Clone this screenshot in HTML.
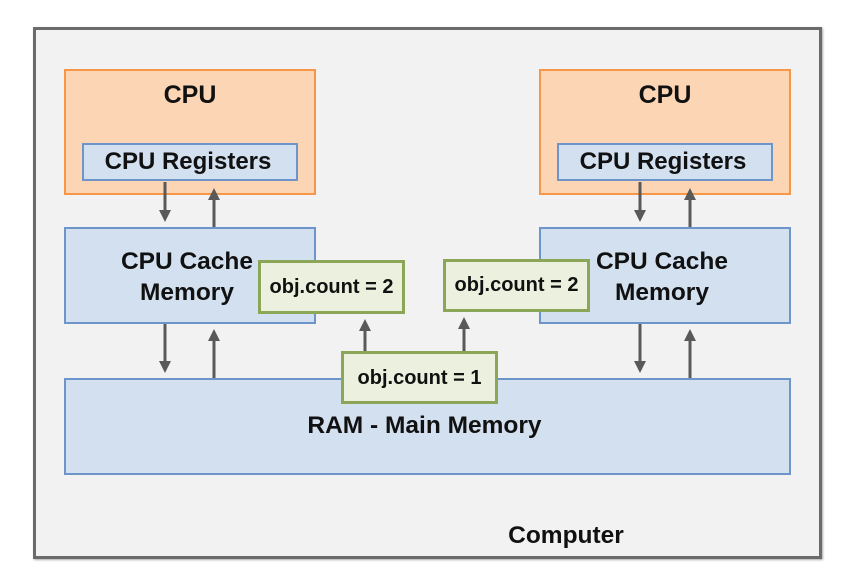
<!DOCTYPE html>
<html><head><style>
body{margin:0;background:#fff;width:847px;height:585px;position:relative;overflow:hidden;font-family:"Liberation Sans",Arial,sans-serif;font-weight:bold;color:#111}
.b{position:absolute;box-sizing:border-box;text-align:center;white-space:nowrap}
.frame{left:33px;top:27px;width:789px;height:532px;border:3px solid #6b6b6b;background:#f2f2f2;box-shadow:1px 1px 2px #aaa}
.cpu{background:#fcd5b5;border:2px solid #f79646;font-size:25px;padding-top:10px}
.reg{background:#d3e0f0;border:2px solid #6d95c9;font-size:24px;line-height:33px}
.blue{background:#d3e0f0;border:2px solid #6d95c9;font-size:24.5px}
.g{background:#ebf1de;border:3px solid #8aa656;font-size:20px}
</style></head><body>
<div class="b frame"></div>
<div class="b cpu" style="left:64px;top:69px;width:252px;height:126px">CPU</div>
<div class="b reg" style="left:82px;top:143px;width:216px;height:38px;padding-right:4px">CPU Registers</div>
<div class="b cpu" style="left:539px;top:69px;width:252px;height:126px">CPU</div>
<div class="b reg" style="left:557px;top:143px;width:216px;height:38px;padding-right:4px">CPU Registers</div>
<div class="b blue" style="left:64px;top:227px;width:252px;height:97px;padding-top:17px;line-height:31px;padding-right:6px">CPU Cache<br>Memory</div>
<div class="b blue" style="left:539px;top:227px;width:252px;height:97px;padding-top:17px;line-height:31px;padding-right:6px">CPU Cache<br>Memory</div>
<div class="b blue" style="left:64px;top:378px;width:727px;height:97px;padding-top:31px;line-height:30px;padding-right:6px">RAM - Main Memory</div>
<div class="b g" style="left:258px;top:260px;width:147px;height:54px;line-height:48px">obj.count = 2</div>
<div class="b g" style="left:443px;top:259px;width:147px;height:53px;line-height:47px">obj.count = 2</div>
<div class="b g" style="left:341px;top:351px;width:157px;height:53px;line-height:49px">obj.count = 1</div>
<div class="b" style="left:466px;top:522px;width:200px;font-size:24.5px">Computer</div>
<svg width="847" height="585" style="position:absolute;left:0;top:0">
<defs><marker id="a" markerWidth="4" markerHeight="4" refX="2" refY="2" orient="auto" markerUnits="strokeWidth"><path d="M0,0 L4,2 L0,4 z" fill="#595959"/></marker></defs>
<g stroke="#595959" stroke-width="3" marker-end="url(#a)">
<line x1="165" y1="182" x2="165" y2="216"/><line x1="214" y1="227" x2="214" y2="194"/>
<line x1="165" y1="324" x2="165" y2="367"/><line x1="214" y1="378" x2="214" y2="335"/>
<line x1="640" y1="182" x2="640" y2="216"/><line x1="690" y1="227" x2="690" y2="194"/>
<line x1="640" y1="324" x2="640" y2="367"/><line x1="690" y1="378" x2="690" y2="335"/>
<line x1="365" y1="351" x2="365" y2="325"/><line x1="464" y1="351" x2="464" y2="323"/>
</g></svg>
</body></html>
